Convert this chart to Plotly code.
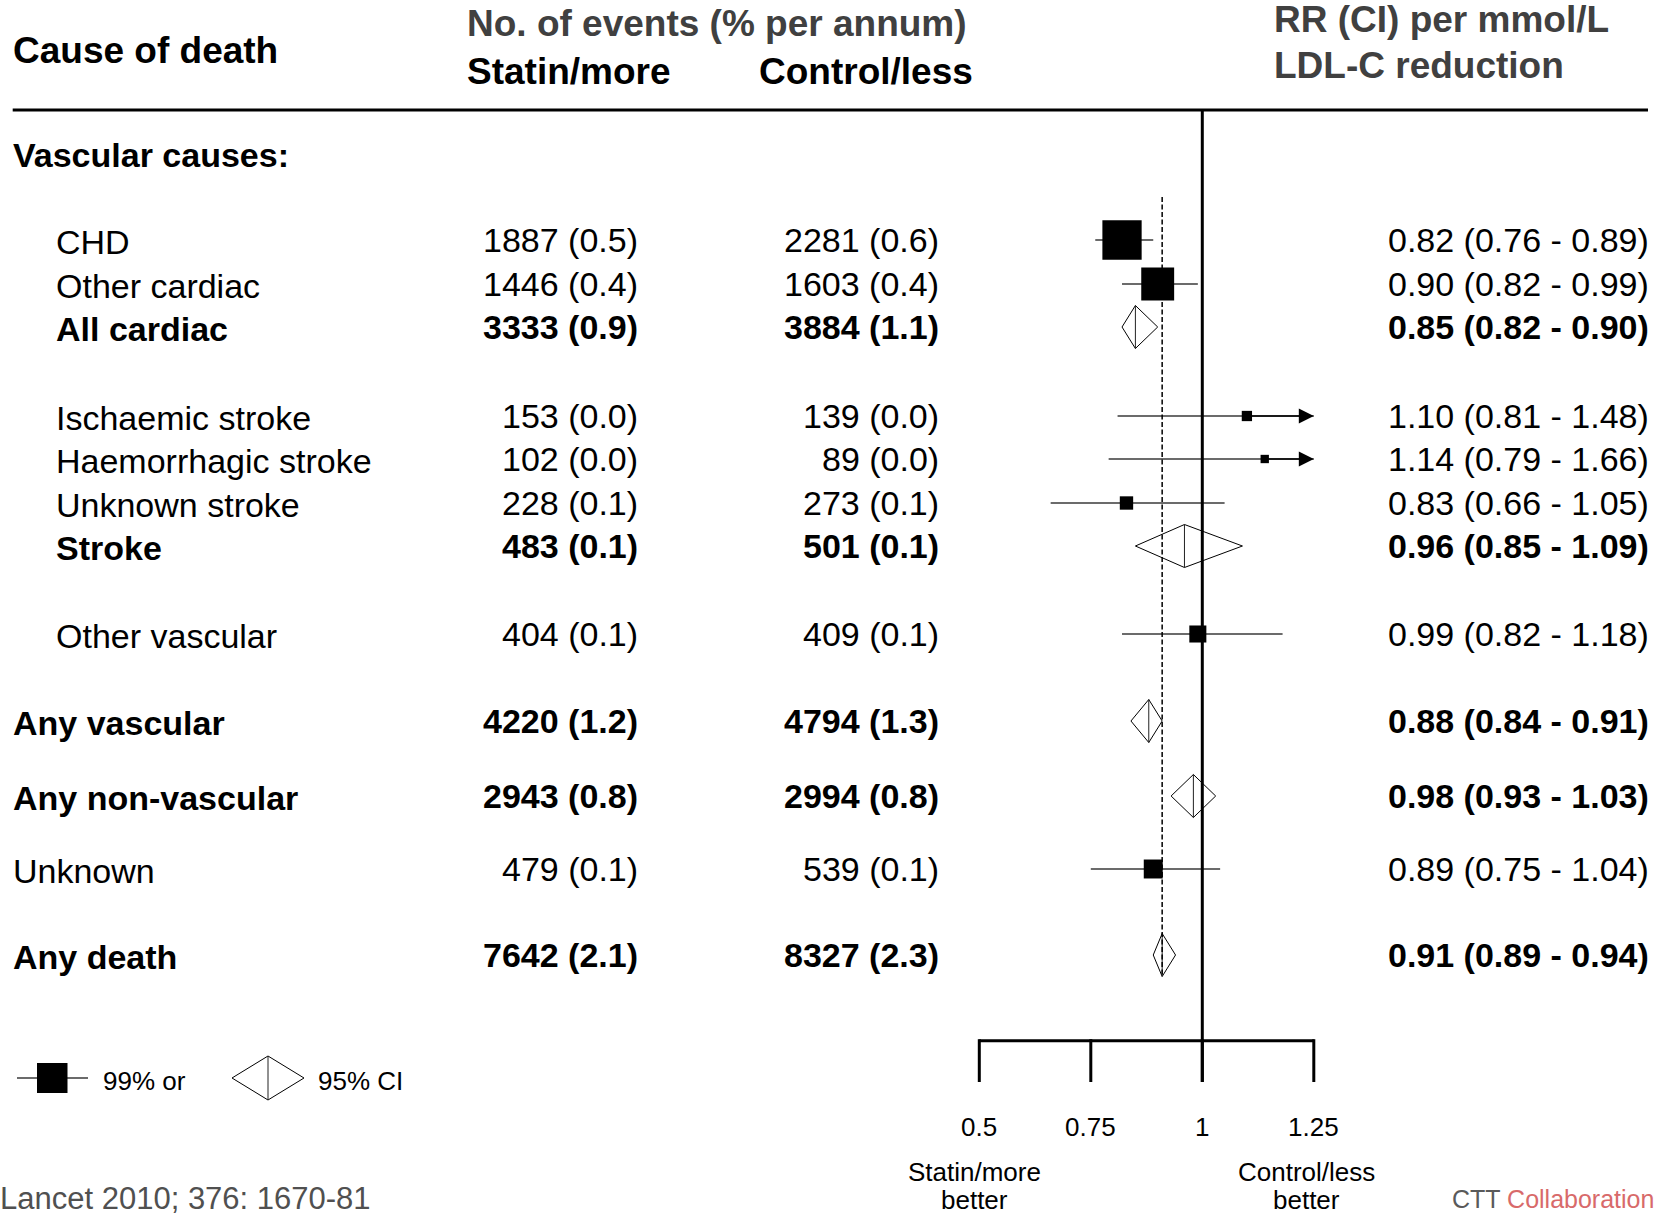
import math
import plotly.graph_objects as go

# ---------------- data ----------------
causes = ["CHD", "Other cardiac", "All cardiac", "Ischaemic stroke", "Haemorrhagic stroke",
          "Unknown stroke", "Stroke", "Other vascular", "Any vascular", "Any non-vascular",
          "Unknown", "Any death"]
statin_events = [1887, 1446, 3333, 153, 102, 228, 483, 404, 4220, 2943, 479, 7642]
statin_pct = [0.5, 0.4, 0.9, 0.0, 0.0, 0.1, 0.1, 0.1, 1.2, 0.8, 0.1, 2.1]
control_events = [2281, 1603, 3884, 139, 89, 273, 501, 409, 4794, 2994, 539, 8327]
control_pct = [0.6, 0.4, 1.1, 0.0, 0.0, 0.1, 0.1, 0.1, 1.3, 0.8, 0.1, 2.3]
rr = [0.82, 0.90, 0.85, 1.10, 1.14, 0.83, 0.96, 0.99, 0.88, 0.98, 0.89, 0.91]
ci_low = [0.76, 0.82, 0.82, 0.81, 0.79, 0.66, 0.85, 0.82, 0.84, 0.93, 0.75, 0.89]
ci_high = [0.89, 0.99, 0.90, 1.48, 1.66, 1.05, 1.09, 1.18, 0.91, 1.03, 1.04, 0.94]
is_total = [False, False, True, False, False, False, True, False, True, True, False, True]
in_vascular_group = [True, True, True, True, True, True, True, True, False, False, False, False]
group_heading = "Vascular causes:"
axis_ticks = [0.5, 0.75, 1, 1.25]
tick_labels = ["0.5", "0.75", "1", "1.25"]

# ---------------- layout constants ----------------
W, H = 1660, 1218
PX_AT_HALF = 979.3          # pixel position of RR = 0.5
PX_PER_UNIT = 446.0         # pixels per unit RR
X_RANGE = [0.5 - PX_AT_HALF / PX_PER_UNIT, 0.5 + (W - PX_AT_HALF) / PX_PER_UNIT]
ROW_Y = [240, 284, 327, 416, 459, 503, 546, 634, 721, 796, 869, 955]
HEADING_Y = 155
DIAMOND_HALF_H = 21.5
BOX_K = 6.2                 # square side ~ 1 / log-CI width
FONT = "Arial, Liberation Sans, sans-serif"
ROW_SIZE = 34
HEAD_SIZE = 37
SMALL_SIZE = 26
GREY_HEAD = "#404040"

fig = go.Figure()
xmax = axis_ticks[-1]

# CI lines for individual causes
ci_x, ci_y = [], []
for i in range(len(causes)):
    if not is_total[i]:
        ci_x += [ci_low[i], min(ci_high[i], xmax), None]
        ci_y += [ROW_Y[i], ROW_Y[i], None]
fig.add_trace(go.Scatter(x=ci_x, y=ci_y, mode="lines",
                         line=dict(color="#3a3a3a", width=1.4), hoverinfo="skip"))

# squares (size proportional to inverse SE)
sq_x, sq_y, sq_s = [], [], []
for i in range(len(causes)):
    if not is_total[i]:
        sq_x.append(rr[i])
        sq_y.append(ROW_Y[i])
        sq_s.append(BOX_K / math.log(ci_high[i] / ci_low[i]))
fig.add_trace(go.Scatter(x=sq_x, y=sq_y, mode="markers",
                         marker=dict(symbol="square", size=sq_s, color="black", opacity=1,
                                     line=dict(width=0)), hoverinfo="skip"))

# diamonds for totals
for i in range(len(causes)):
    if is_total[i]:
        y = ROW_Y[i]
        fig.add_trace(go.Scatter(
            x=[ci_low[i], rr[i], ci_high[i], rr[i], ci_low[i]],
            y=[y, y - DIAMOND_HALF_H, y, y + DIAMOND_HALF_H, y],
            mode="lines", fill="toself", fillcolor="white",
            line=dict(color="black", width=1), hoverinfo="skip"))
        fig.add_trace(go.Scatter(
            x=[rr[i], rr[i]], y=[y - DIAMOND_HALF_H, y + DIAMOND_HALF_H],
            mode="lines", line=dict(color="#222", width=1), hoverinfo="skip"))

annotations = []

# arrows for CIs running off the axis
for i in range(len(causes)):
    if not is_total[i] and ci_high[i] > xmax:
        annotations.append(dict(x=xmax, y=ROW_Y[i], xref="x", yref="y",
                                ax=rr[i], ay=ROW_Y[i], axref="x", ayref="y",
                                text="", showarrow=True, arrowhead=2, arrowsize=2.0,
                                arrowwidth=1.5, arrowcolor="black", standoff=0))


def ann(text, x_px, y_px, size, bold=False, color="black", anchor="left"):
    annotations.append(dict(
        x=x_px / W, xref="paper", y=y_px, yref="y",
        text=f"<b>{text}</b>" if bold else text, showarrow=False,
        xanchor=anchor, yanchor="middle", borderpad=0, borderwidth=0,
        font=dict(size=size, color=color, family=FONT)))


# headers
ann("Cause of death", 13, 50, HEAD_SIZE, bold=True)
ann("No. of events (% per annum)", 467, 23, HEAD_SIZE, bold=True, color=GREY_HEAD)
ann("Statin/more", 467, 71, HEAD_SIZE, bold=True)
ann("Control/less", 759, 71, HEAD_SIZE, bold=True)
ann("RR (CI) per mmol/L", 1274, 19, HEAD_SIZE, bold=True, color=GREY_HEAD)
ann("LDL-C reduction", 1274, 65, HEAD_SIZE, bold=True, color=GREY_HEAD)

# rows
ann(group_heading, 13, HEADING_Y, ROW_SIZE, bold=True)
for i, c in enumerate(causes):
    y = ROW_Y[i]
    b = is_total[i]
    ann(c, 56 if in_vascular_group[i] else 13, y + 2, ROW_SIZE, bold=b)
    ann(f"{statin_events[i]} ({statin_pct[i]:.1f})", 638, y, ROW_SIZE, bold=b, anchor="right")
    ann(f"{control_events[i]} ({control_pct[i]:.1f})", 939, y, ROW_SIZE, bold=b, anchor="right")
    ann(f"{rr[i]:.2f} ({ci_low[i]:.2f} - {ci_high[i]:.2f})", 1649, y, ROW_SIZE, bold=b,
        anchor="right")

# axis tick labels
for t, lab in zip(axis_ticks, tick_labels):
    annotations.append(dict(x=t, xref="x", y=1127, yref="y", text=lab, showarrow=False,
                            xanchor="center", yanchor="middle", borderpad=0,
                            font=dict(size=SMALL_SIZE, color="black", family=FONT)))
for t, l1, l2, shift in [(axis_ticks[0], "Statin/more", "better", -5),
                         (axis_ticks[-1], "Control/less", "better", -7)]:
    for txt, yy in [(l1, 1172), (l2, 1200)]:
        annotations.append(dict(x=t, xref="x", y=yy, yref="y", text=txt, showarrow=False,
                                xanchor="center", yanchor="middle", xshift=shift, borderpad=0,
                                font=dict(size=SMALL_SIZE, color="black", family=FONT)))

# legend texts
ann("99% or", 103, 1081, SMALL_SIZE)
ann("95% CI", 318, 1081, SMALL_SIZE)

# citation & logo
ann("Lancet 2010; 376: 1670-81", 0, 1198, 31, color="#505050")
ann("CTT <span style='color:#d86a6a'>Collaboration</span>", 1452, 1199, 25, color="#5a5a5a")

shapes = []
# header rule
shapes.append(dict(type="line", xref="paper", yref="y", x0=12.7 / W, x1=1648 / W,
                   y0=110, y1=110, line=dict(color="black", width=3)))
# line of no effect
shapes.append(dict(type="line", xref="x", yref="y", x0=1, x1=1, y0=110, y1=1082,
                   line=dict(color="black", width=3)))
# overall effect (dashed)
shapes.append(dict(type="line", xref="x", yref="y", x0=rr[-1], x1=rr[-1], y0=197, y1=977,
                   line=dict(color="black", width=1.5, dash="5px,2.5px")))
# axis bracket
AX_Y, TICK_Y = 1040.7, 1082
shapes.append(dict(type="line", xref="x", yref="y", x0=axis_ticks[0], x1=axis_ticks[-1],
                   y0=AX_Y, y1=AX_Y, line=dict(color="black", width=3)))
for t in axis_ticks:
    shapes.append(dict(type="line", xref="x", yref="y", x0=t, x1=t, y0=AX_Y - 1.5, y1=TICK_Y,
                       line=dict(color="black", width=3)))

# legend marks
LY = 1078
shapes.append(dict(type="line", xref="paper", yref="y", x0=17 / W, x1=88 / W, y0=LY, y1=LY,
                   line=dict(color="#3a3a3a", width=1.5)))
shapes.append(dict(type="rect", xref="paper", yref="y", x0=37 / W, x1=67.5 / W,
                   y0=LY - 15, y1=LY + 15, fillcolor="black", line=dict(width=0)))
cx, hw, hh = 268, 36, 22
shapes.append(dict(type="path", xref="paper", yref="y",
                   path=(f"M {(cx - hw) / W},{LY} L {cx / W},{LY - hh} L {(cx + hw) / W},{LY} "
                         f"L {cx / W},{LY + hh} Z"),
                   fillcolor="white", line=dict(color="black", width=1)))
shapes.append(dict(type="line", xref="paper", yref="y", x0=cx / W, x1=cx / W,
                   y0=LY - hh, y1=LY + hh, line=dict(color="#222", width=1)))

fig.update_layout(
    width=W, height=H, margin=dict(l=0, r=0, t=0, b=0, pad=0),
    paper_bgcolor="white", plot_bgcolor="white", showlegend=False,
    font=dict(family=FONT, color="black"),
    xaxis=dict(range=X_RANGE, visible=False, fixedrange=True, domain=[0, 1]),
    yaxis=dict(range=[H, 0], visible=False, fixedrange=True, domain=[0, 1]),
    annotations=annotations, shapes=shapes,
)

fig.write_html("out.html", config={"displayModeBar": False})
